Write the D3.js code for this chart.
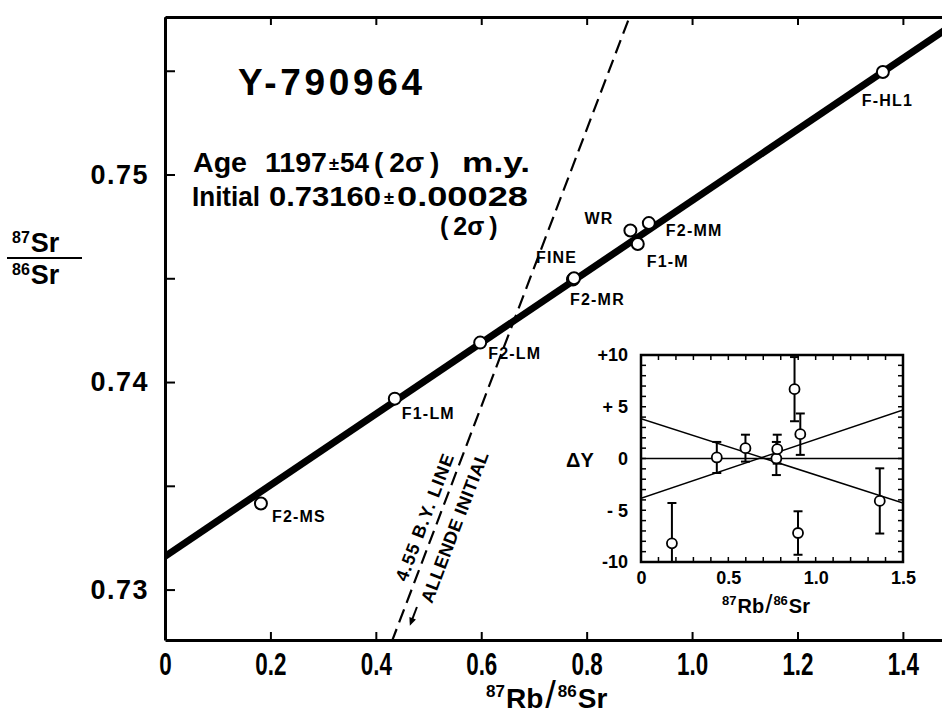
<!DOCTYPE html>
<html>
<head>
<meta charset="utf-8">
<script src="https://cdn.jsdelivr.net/npm/d3@7"></script>
<style>
  body { margin: 0; background: #fff; }
  text { font-family: "Liberation Sans", Arial, Helvetica, sans-serif; fill: #000; }
</style>
</head>
<body>
<svg id="chart"></svg>
<script>
// main isochron: samples, 87Rb/86Sr and 87Sr/86Sr
var sampleNames = ["F2-MS", "F1-LM", "F2-LM", "FINE", "F2-MR", "WR", "F1-M", "F2-MM", "F-HL1"];
var rbSr = [0.182, 0.436, 0.598, 0.774, 0.776, 0.883, 0.897, 0.918, 1.362];
var srSr = [0.73415, 0.73920, 0.74190, 0.74494, 0.74500, 0.74730, 0.74665, 0.74766, 0.75494];

// fitted isochron (age 1197 m.y., initial 0.73160) and 4.55 b.y. reference line
var isoLineX = [0, 1.5];
var isoLineY = [0.73160, 0.75731];
var refLineX = [0.43, 0.885];
var refLineY = [0.72747, 0.75784];

// axis ticks
var xTicks = [0, 0.2, 0.4, 0.6, 0.8, 1.0, 1.2, 1.4];
var xTickLabels = ["0", "0.2", "0.4", "0.6", "0.8", "1.0", "1.2", "1.4"];
var yTicks = [0.73, 0.735, 0.74, 0.745, 0.75, 0.755];
var yTickLabels = ["0.73", "", "0.74", "", "0.75", ""];

// inset: deviation from the isochron
var insetX = [0.177, 0.434, 0.598, 0.775, 0.780, 0.879, 0.899, 0.912, 1.367];
var insetDY = [-8.2, 0.1, 1.0, 0.0, 0.9, 6.7, -7.2, 2.35, -4.1];
var insetErr = [3.9, 1.5, 1.3, 1.6, 1.4, 3.1, 2.1, 2.0, 3.15];
var envX = [0, 1.5];
var envUpper = [3.85, -4.3];
var envLower = [-3.85, 4.7];
var insetXTicks = [0, 0.5, 1.0, 1.5];
var insetXTickLabels = ["0", "0.5", "1.0", "1.5"];
var insetYTicks = [-10, -5, 0, 5, 10];
var insetYTickLabels = ["-10", "- 5", "0", "+ 5", "+10"];

// label placement (pixels from the marker)
var labelOffset = {
  "F2-MS": [11, 19], "F1-LM": [7, 20], "F2-LM": [8, 16], "FINE": [-37, -17],
  "F2-MR": [-4, 27], "WR": [-46, -7], "F1-M": [9, 23], "F2-MM": [17, 13], "F-HL1": [-21, 34]
};

// pieces of the result text: [text, x, width]
var ageLine = [["Age", 193, 54], ["1197", 265, 62], ["\u00b1", 329, 10], ["54", 340, 29], ["m.y.", 462, 68]];
var initLine = [["Initial", 192, 68], ["0.73160", 269, 112], ["\u00b1", 384, 10], ["0.00028", 397, 131]];

const width = 942, height = 720;
const svg = d3.select("#chart").attr("width", width).attr("height", height);

const x = d3.scaleLinear().domain([0, 1.5]).range([165, 955.6]);
const y = d3.scaleLinear().domain([0.72757, 0.75759]).range([640, 17]);

svg.append("clipPath").attr("id", "plotClip")
  .append("rect").attr("x", 165).attr("y", 17).attr("width", width - 165).attr("height", 623);

// axes
const xAxis = d3.axisBottom(x).tickValues(xTicks)
  .tickFormat((d, i) => xTickLabels[i]).tickSizeInner(-8).tickSizeOuter(0).tickPadding(12);
const gx = svg.append("g").attr("transform", "translate(0,640)").call(xAxis);
// tick labels of the x axis are tall and narrow in the original
gx.selectAll("text").style("font-size", "28px").style("font-weight", "bold")
  .attr("transform", "scale(0.8,1.1)");

const gTop = svg.append("g").attr("transform", "translate(0,17)")
  .call(d3.axisTop(x).tickValues(xTicks).tickFormat("").tickSizeInner(-8).tickSizeOuter(0));

const yAxis = d3.axisLeft(y).tickValues(yTicks)
  .tickFormat((d, i) => yTickLabels[i]).tickSizeInner(-10).tickSizeOuter(0).tickPadding(16);
const gy = svg.append("g").attr("transform", "translate(165,0)").call(yAxis);
gy.selectAll("text").style("font-size", "27px").style("font-weight", "bold").style("letter-spacing", "1.5px");

[gx, gTop, gy].forEach(function (g) {
  g.select(".domain").attr("stroke", "#000").attr("stroke-width", 3);
  g.selectAll(".tick line").attr("stroke", "#000").attr("stroke-width", 2);
});

// axis titles
const yTitle = svg.append("g").style("font-weight", "bold");
yTitle.append("text").attr("x", 12).attr("y", 252)
  .call(t => {
    t.append("tspan").style("font-size", "16px").attr("dy", -9).text("87");
    t.append("tspan").style("font-size", "27px").attr("dy", 9).attr("dx", 1).text("Sr");
  });
yTitle.append("line").attr("x1", 7).attr("x2", 82).attr("y1", 258).attr("y2", 258)
  .attr("stroke", "#000").attr("stroke-width", 2);
yTitle.append("text").attr("x", 12).attr("y", 284)
  .call(t => {
    t.append("tspan").style("font-size", "16px").attr("dy", -9).text("86");
    t.append("tspan").style("font-size", "27px").attr("dy", 9).attr("dx", 1).text("Sr");
  });

svg.append("text").attr("x", 486).attr("y", 708).style("font-weight", "bold")
  .call(t => {
    t.append("tspan").style("font-size", "17px").attr("dy", -11).text("87");
    t.append("tspan").style("font-size", "28px").attr("dy", 11).attr("dx", 1).text("Rb");
    t.append("tspan").style("font-size", "38px").style("font-weight", "normal").attr("dx", 2).text("/");
    t.append("tspan").style("font-size", "17px").attr("dy", -11).attr("dx", 2).text("86");
    t.append("tspan").style("font-size", "28px").attr("dy", 11).attr("dx", 1).text("Sr");
  });

// lines
const plot = svg.append("g").attr("clip-path", "url(#plotClip)");
const lineGen = d3.line().x(d => x(d[0])).y(d => y(d[1]));

plot.append("path")
  .datum(d3.zip(refLineX, refLineY))
  .attr("d", lineGen).attr("fill", "none").attr("stroke", "#000")
  .attr("stroke-width", 2.2).attr("stroke-dasharray", "14,7");

plot.append("path")
  .datum(d3.zip(isoLineX, isoLineY))
  .attr("d", lineGen).attr("fill", "none").attr("stroke", "#000").attr("stroke-width", 7);

// reference line labels, rotated along the dashed line
const angle = Math.atan2(y(refLineY[1]) - y(refLineY[0]), x(refLineX[1]) - x(refLineX[0])) * 180 / Math.PI;
svg.append("text").attr("transform", "translate(425,517) rotate(" + angle + ")")
  .attr("text-anchor", "middle").attr("dominant-baseline", "central")
  .style("font-size", "18px").style("font-weight", "bold").style("letter-spacing", "1.2px")
  .text("4.55 B.Y. LINE");
svg.append("text").attr("transform", "translate(455,527) rotate(" + angle + ")")
  .attr("text-anchor", "middle").attr("dominant-baseline", "central")
  .style("font-size", "18px").style("font-weight", "bold").style("letter-spacing", "0.5px")
  .text("ALLENDE INITIAL");

// little arrow pointing down the reference line
const ax0 = x(0.478), ay0 = y(0.72916);
const dirx = x(refLineX[0]) - x(refLineX[1]), diry = y(refLineY[0]) - y(refLineY[1]);
const dl = Math.sqrt(dirx * dirx + diry * diry);
const ux = dirx / dl, uy = diry / dl;
const tipx = ax0 + 20 * ux, tipy = ay0 + 20 * uy;
svg.append("line").attr("x1", ax0).attr("y1", ay0).attr("x2", tipx - 4 * ux).attr("y2", tipy - 4 * uy)
  .attr("stroke", "#000").attr("stroke-width", 2);
svg.append("path")
  .attr("d", "M" + tipx + "," + tipy +
    "L" + (tipx - 8 * ux + 3.5 * uy) + "," + (tipy - 8 * uy - 3.5 * ux) +
    "L" + (tipx - 8 * ux - 3.5 * uy) + "," + (tipy - 8 * uy + 3.5 * ux) + "Z")
  .attr("fill", "#000");

// sample points
const samples = sampleNames.map((n, i) => ({name: n, rb: rbSr[i], sr: srSr[i]}));
svg.selectAll(".pt").data(samples).enter().append("circle")
  .attr("class", "pt")
  .attr("cx", d => x(d.rb)).attr("cy", d => y(d.sr)).attr("r", 6)
  .attr("fill", "#fff").attr("stroke", "#000").attr("stroke-width", 2);
svg.selectAll(".ptLabel").data(samples).enter().append("text")
  .attr("class", "ptLabel")
  .attr("x", d => x(d.rb) + labelOffset[d.name][0])
  .attr("y", d => y(d.sr) + labelOffset[d.name][1])
  .style("font-size", "16px").style("font-weight", "bold").style("letter-spacing", "1.2px")
  .text(d => d.name);

// title block
svg.append("text").attr("x", 238).attr("y", 95).attr("textLength", 184).attr("lengthAdjust", "spacing")
  .style("font-size", "37px").style("font-weight", "bold").text("Y-790964");

function textRow(pieces, baseline) {
  svg.append("g").selectAll("text").data(pieces).enter().append("text")
    .attr("x", d => d[1]).attr("y", d => d[0] === "\u00b1" ? baseline - 2 : baseline)
    .attr("textLength", d => d[2]).attr("lengthAdjust", "spacingAndGlyphs")
    .style("font-size", d => d[0] === "\u00b1" ? "18px" : "27px").style("font-weight", "bold")
    .text(d => d[0]);
}
// "(2σ)" with loose parentheses
function sigma(x0, baseline, size, gap) {
  svg.append("text").attr("x", x0).attr("y", baseline)
    .style("font-size", size + "px").style("font-weight", "bold")
    .call(t => {
      t.append("tspan").text("(");
      t.append("tspan").attr("dx", gap).text("2\u03c3");
      t.append("tspan").attr("dx", gap).text(")");
    });
}
textRow(ageLine, 172);
sigma(374, 172, 28, 6);
textRow(initLine, 206);
sigma(440, 235, 25, 5);

// inset
const ix = d3.scaleLinear().domain([0, 1.5]).range([641, 903]);
const iy = d3.scaleLinear().domain([-10, 10]).range([562, 355]);
const inset = svg.append("g");
inset.append("rect").attr("x", 641).attr("y", 355).attr("width", 262).attr("height", 207).attr("fill", "#fff");
svg.append("clipPath").attr("id", "insetClip")
  .append("rect").attr("x", 641).attr("y", 355).attr("width", 262).attr("height", 207);

const ib = inset.append("g").attr("transform", "translate(0,562)")
  .call(d3.axisBottom(ix).tickValues(insetXTicks).tickFormat((d, i) => insetXTickLabels[i])
    .tickSizeInner(0).tickSizeOuter(0).tickPadding(9));
ib.selectAll("text").style("font-size", "18px").style("font-weight", "bold");
const il = inset.append("g").attr("transform", "translate(641,0)")
  .call(d3.axisLeft(iy).tickValues(insetYTicks).tickFormat((d, i) => insetYTickLabels[i])
    .tickSizeInner(0).tickSizeOuter(0).tickPadding(13));
il.selectAll("text").style("font-size", "18px").style("font-weight", "bold");
[ib, il].forEach(g => g.select(".domain").remove());

// inset minor ticks on all four sides
const minorX = d3.range(1, 15).map(d => d / 10);
const minorY = d3.range(-9, 10);
[[562, -5], [355, 5]].forEach(function (s) {
  inset.selectAll(null).data(minorX).enter().append("line")
    .attr("x1", d => ix(d)).attr("x2", d => ix(d)).attr("y1", s[0]).attr("y2", s[0] + s[1])
    .attr("stroke", "#000").attr("stroke-width", 1.5);
});
[[641, 5], [903, -5]].forEach(function (s) {
  inset.selectAll(null).data(minorY).enter().append("line")
    .attr("y1", d => iy(d)).attr("y2", d => iy(d)).attr("x1", s[0]).attr("x2", s[0] + s[1])
    .attr("stroke", "#000").attr("stroke-width", 1.5);
});

const ic = inset.append("g").attr("clip-path", "url(#insetClip)");
const iline = d3.line().x(d => ix(d[0])).y(d => iy(d[1]));
ic.append("path").datum([[0, 0], [1.5, 0]]).attr("d", iline)
  .attr("stroke", "#000").attr("stroke-width", 1.5).attr("fill", "none");
[envUpper, envLower].forEach(function (env) {
  ic.append("path").datum(d3.zip(envX, env)).attr("d", iline)
    .attr("stroke", "#000").attr("stroke-width", 1.5).attr("fill", "none");
});

const dev = insetX.map((v, i) => ({x: v, dy: insetDY[i], e: insetErr[i]}));
ic.selectAll(".ebar").data(dev).enter().append("line")
  .attr("x1", d => ix(d.x)).attr("x2", d => ix(d.x))
  .attr("y1", d => iy(d.dy - d.e)).attr("y2", d => iy(d.dy + d.e))
  .attr("stroke", "#000").attr("stroke-width", 2);
[-1, 1].forEach(function (sgn) {
  ic.selectAll(null).data(dev).enter().append("line")
    .attr("x1", d => ix(d.x) - 4.5).attr("x2", d => ix(d.x) + 4.5)
    .attr("y1", d => iy(d.dy + sgn * d.e)).attr("y2", d => iy(d.dy + sgn * d.e))
    .attr("stroke", "#000").attr("stroke-width", 2);
});
ic.selectAll(".ipt").data(dev).enter().append("circle")
  .attr("cx", d => ix(d.x)).attr("cy", d => iy(d.dy)).attr("r", 5)
  .attr("fill", "#fff").attr("stroke", "#000").attr("stroke-width", 1.8);

inset.append("rect").attr("x", 641).attr("y", 355).attr("width", 262).attr("height", 207)
  .attr("fill", "none").attr("stroke", "#000").attr("stroke-width", 2.5);

inset.append("text").attr("x", 566).attr("y", 467).style("font-size", "20px").style("font-weight", "bold").text("\u0394Y");
inset.append("text").attr("x", 722).attr("y", 613).style("font-weight", "bold")
  .call(t => {
    t.append("tspan").style("font-size", "13px").attr("dy", -8).text("87");
    t.append("tspan").style("font-size", "20px").attr("dy", 8).attr("dx", 1).text("Rb");
    t.append("tspan").style("font-size", "26px").style("font-weight", "normal").attr("dx", 1).text("/");
    t.append("tspan").style("font-size", "13px").attr("dy", -8).attr("dx", 1).text("86");
    t.append("tspan").style("font-size", "20px").attr("dy", 8).attr("dx", 1).text("Sr");
  });
</script>
</body>
</html>
